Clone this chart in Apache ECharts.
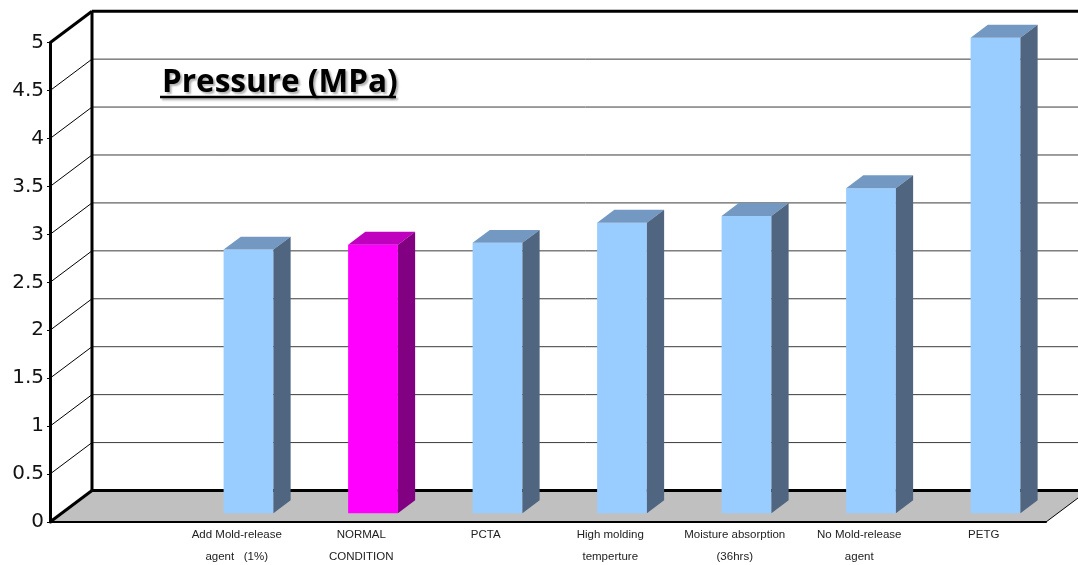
<!DOCTYPE html>
<html>
<head>
<meta charset="utf-8">
<script src="https://cdn.jsdelivr.net/npm/echarts@6/dist/echarts.min.js"></script>
<style>
  html, body { margin: 0; padding: 0; background: #fff; }
  #chart { width: 1078px; height: 565px; }
</style>
</head>
<body>
<div id="chart"></div>
<script>
var categories = ['', 'Add Mold-release\nagent   (1%)', 'NORMAL\nCONDITION', 'PCTA',
    'High molding\ntemperture', 'Moisture absorption\n(36hrs)', 'No Mold-release\nagent', 'PETG'];
var pressure = [null, 2.75, 2.80, 2.82, 3.03, 3.10, 3.39, 4.96];
var yTicks = [0, 0.5, 1, 1.5, 2, 2.5, 3, 3.5, 4, 4.5, 5];
var highlight = 2; // NORMAL CONDITION

// 3d look: depth of the walls in px, bar placement as part of that depth
var DEPTH_X = 42, DEPTH_Y = -31.5;
var BAR_POS = 0.28, BAR_DEPTH = 0.41, BAR_WIDTH = 0.4;

var blue = {front: '#99ccff', top: '#7399c2', side: '#4f6580'};
var pink = {front: '#ff00ff', top: '#bf00bf', side: '#820082'};

function renderWalls(params, api) {
    var cs = params.coordSys;
    var left = cs.x, right = cs.x + cs.width;
    var y0 = api.coord([0, 0])[1];
    var y5 = api.coord([0, 5])[1];
    var kids = [];
    // floor
    kids.push({
        type: 'polygon',
        shape: {points: [[left, y0], [left + DEPTH_X, y0 + DEPTH_Y], [right + DEPTH_X, y0 + DEPTH_Y], [right, y0]]},
        style: {fill: '#c0c0c0'}
    });
    yTicks.forEach(function (t) {
        var y = api.coord([0, t])[1];
        var edge = (t === 0 || t === 5);
        kids.push({
            type: 'line',
            shape: {x1: left + DEPTH_X, y1: y + DEPTH_Y, x2: right + DEPTH_X, y2: y + DEPTH_Y},
            style: {stroke: edge ? '#000' : '#3c3c3c', lineWidth: edge ? 3 : 1}
        });
        kids.push({
            type: 'line',
            shape: {x1: left, y1: y, x2: left + DEPTH_X, y2: y + DEPTH_Y},
            style: {stroke: '#000', lineWidth: edge ? 3 : 1}
        });
    });
    // back wall left edge and floor right edge
    kids.push({
        type: 'line',
        shape: {x1: left + DEPTH_X, y1: y5 + DEPTH_Y, x2: left + DEPTH_X, y2: y0 + DEPTH_Y},
        style: {stroke: '#000', lineWidth: 3}
    });
    kids.push({
        type: 'line',
        shape: {x1: right, y1: y0, x2: right + DEPTH_X, y2: y0 + DEPTH_Y},
        style: {stroke: '#000', lineWidth: 1}
    });
    return {type: 'group', children: kids};
}

function renderBar(params, api) {
    var i = api.value(0);
    var v = api.value(1);
    var base = api.coord([i, 0]);
    var top = api.coord([i, v]);
    var w = api.size([1, 0])[0] * BAR_WIDTH;
    var ox = DEPTH_X * BAR_POS, oy = DEPTH_Y * BAR_POS;
    var dx = DEPTH_X * BAR_DEPTH, dy = DEPTH_Y * BAR_DEPTH;
    var x0 = base[0] - w / 2 + ox, x1 = x0 + w;
    var yb = base[1] + oy, yt = top[1] + oy;
    var c = i === highlight ? pink : blue;
    return {
        type: 'group',
        children: [
            {type: 'polygon', shape: {points: [[x0, yb], [x1, yb], [x1, yt], [x0, yt]]}, style: {fill: c.front}},
            {type: 'polygon', shape: {points: [[x0, yt], [x1, yt], [x1 + dx, yt + dy], [x0 + dx, yt + dy]]}, style: {fill: c.top}},
            {type: 'polygon', shape: {points: [[x1, yb], [x1 + dx, yb + dy], [x1 + dx, yt + dy], [x1, yt]]}, style: {fill: c.side}}
        ]
    };
}

var barData = [];
pressure.forEach(function (v, i) {
    if (v != null) barData.push([i, v]);
});

var chart = echarts.init(document.getElementById('chart'));
chart.setOption({
    animation: false,
    backgroundColor: '#fff',
    title: {
        text: 'Pressure (MPa)',
        left: 157,
        top: 62,
        textStyle: {
            fontFamily: 'Open Sans',
            fontWeight: 'bold',
            fontSize: 31.5,
            color: '#000',
            textShadowColor: 'rgba(0,0,0,0.3)',
            textShadowOffsetX: 2,
            textShadowOffsetY: 2,
            textShadowBlur: 2
        }
    },
    graphic: [{
        type: 'line',
        shape: {x1: 160, y1: 97, x2: 396, y2: 97},
        style: {stroke: '#000', lineWidth: 2.5, shadowColor: 'rgba(0,0,0,0.3)', shadowOffsetX: 2, shadowOffsetY: 2, shadowBlur: 2}
    }],
    grid: {left: 50, top: 42.7, width: 996, height: 479.3, outerBoundsMode: 'none'},
    xAxis: {
        type: 'category',
        data: categories,
        z: 2,
        axisLine: {lineStyle: {color: '#000', width: 2}},
        axisTick: {inside: true, length: 7, lineStyle: {color: '#000'}},
        axisLabel: {
            interval: 0,
            margin: 2,
            fontFamily: 'Liberation Sans',
            fontSize: 11.5,
            lineHeight: 22,
            color: '#222'
        }
    },
    yAxis: {
        type: 'value',
        min: 0,
        max: 5,
        interval: 0.5,
        z: 2,
        axisLine: {show: true, lineStyle: {color: '#000', width: 3}},
        axisTick: {show: true, length: 3, lineStyle: {color: '#000'}},
        splitLine: {show: false},
        axisLabel: {
            margin: 6,
            padding: [6, 0, 0, 0],
            fontFamily: 'DejaVu Sans',
            fontSize: 20,
            color: '#111'
        }
    },
    series: [
        {
            type: 'custom',
            z: 1,
            silent: true,
            renderItem: renderWalls,
            data: [[0, 0]]
        },
        {
            type: 'custom',
            z: 3,
            name: 'Pressure (MPa)',
            renderItem: renderBar,
            encode: {x: 0, y: 1},
            data: barData
        }
    ]
});
</script>
</body>
</html>
